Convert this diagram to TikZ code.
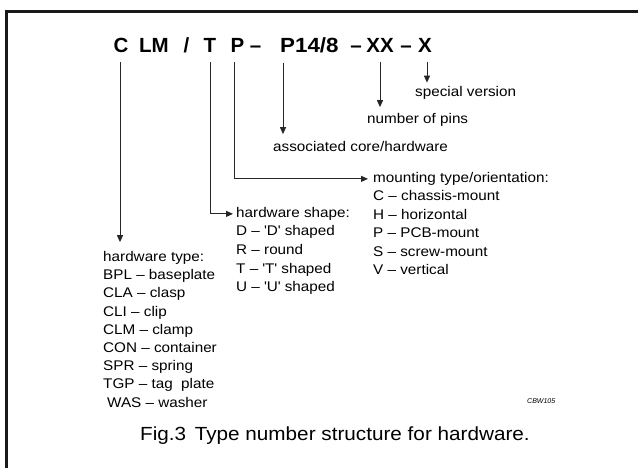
\documentclass[tikz,border=0pt]{standalone}
\usepackage{fontspec}
\setmainfont{Liberation Sans}
\newfontfamily\widesans[FakeStretch=1.09]{Liberation Sans}
\newfontfamily\codesans{Liberation Sans}
\usetikzlibrary{arrows.meta}
\tikzset{
  conn/.style={draw=black!85, line width=1pt, -{Triangle[length=7pt,width=6pt]}},
  code/.style={font=\codesans\bfseries\fontsize{20.5}{25}\selectfont, inner sep=0pt, anchor=base},
  item/.style={font=\widesans\fontsize{14}{17}\selectfont, inner sep=0pt, anchor=base west},
  frameline/.style={draw=black!90, line width=3pt},
}
\newcommand{\sq}{\textquotesingle}
\begin{document}
\begin{tikzpicture}[x=1pt,y=-1pt]
  \useasboundingbox (0,0) rectangle (638,468);
  \fill[white] (0,0) rectangle (638,468);

  % open frame: left and top edges only
  \draw[frameline] (6.5,468) -- (6.5,12) -- (638,12);

  % type number, piece by piece
  \node[code] (tC)   at (121,53)   {C};
  \node[code] (tLM)  at (154,53)   {LM};
  \node[code] (tSl)  at (186.5,53) {/};
  \node[code] (tT)   at (210,53)   {T};
  \node[code] (tP)   at (237.5,53) {P};
  \node[code] (tD1)  at (255.5,53) {–};
  \node[code, anchor=base west, font=\widesans\bfseries\fontsize{20.5}{25}\selectfont]
             (tPin) at (280,53)   {P14/8};
  \node[code] (tD2)  at (356,53)   {–};
  \node[code] (tXX)  at (380,53)   {XX};
  \node[code] (tD3)  at (406,53)   {–};
  \node[code] (tX)   at (425,53)   {X};

  % single-line explanations
  \node[item] (sv) at (415,96.5)  {special version};
  \node[item] (np) at (367,123.5) {number of pins};
  \node[item] (ac) at (273,151.5) {associated core/hardware};

  % mounting type list
  \foreach \t [count=\i from 0] in {mounting type/orientation:, C – chassis-mount,
      H – horizontal, P – PCB-mount, S – screw-mount, V – vertical}
    \node[item] (mt\i) at (373,182.5+18.4*\i) {\t};

  % hardware shape list
  \foreach \t [count=\i from 0] in {hardware shape:, D – \sq D\sq\ shaped,
      R – round, T – \sq T\sq\ shaped, U – \sq U\sq\ shaped}
    \node[item] (sh\i) at (236,217.5+18.5*\i) {\t};

  % hardware type list
  \foreach \t [count=\i from 0] in {hardware type:, BPL – baseplate, CLA – clasp,
      CLI – clip, CLM – clamp, CON – container, SPR – spring, TGP – tag\ \ plate}
    \node[item] (ty\i) at (103,261.5+18.2*\i) {\t};
  \node[item] (ty8) at (107,407.1) {WAS – washer};

  \node[font=\itshape\fontsize{7}{8}\selectfont, inner sep=0pt, anchor=base west]
    (ref) at (527,403) {CBW105};

  \node[font=\widesans\fontsize{19}{23}\selectfont, inner sep=0pt, anchor=base]
    (cap) at (335,440) {Fig.3\hspace{0.45em}Type number structure for hardware.};

  % connectors
  \draw[conn, shorten <=9pt, shorten >=3.5pt] ([xshift=2pt]tX.south)
    -- ([xshift=2pt]tX.south |- sv.north);
  \draw[conn, shorten <=9pt, shorten >=6pt] (tXX.south) -- (tXX.south |- np.north);
  \draw[conn, shorten <=9pt, shorten >=7pt] ([xshift=3pt]tPin.south west)
    -- ([xshift=3pt]tPin.south west |- ac.north);
  \draw[conn, shorten <=9pt, shorten >=5pt] ([xshift=-3.5pt]tP.south) |- (mt0.west);
  \draw[conn, shorten <=9pt, shorten >=3pt] (tT.south) |- (sh0.west);
  \draw[conn, shorten <=9pt, shorten >=9pt] ([xshift=-1pt]tC.south)
    -- ([xshift=-1pt]tC.south |- ty0.north);
\end{tikzpicture}
\end{document}
